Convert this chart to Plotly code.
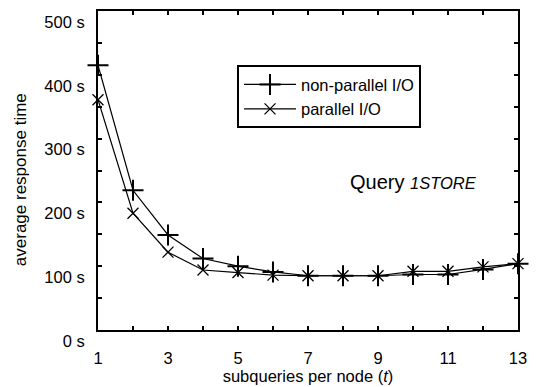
import plotly.graph_objects as go

subqueries = [1, 2, 3, 4, 5, 6, 7, 8, 9, 10, 11, 12, 13]
non_parallel = [415, 219, 149, 112, 100, 91, 85, 85, 85, 87, 87, 95, 104]
parallel = [361, 183, 122, 94, 90, 86, 85, 85, 85, 92, 92, 99, 104]
y_ticks = [0, 100, 200, 300, 400, 500]
y_tick_labels = ["0 s", "100 s", "200 s", "300 s", "400 s", "500 s"]
x_ticks = [1, 3, 5, 7, 9, 11, 13]

FONT = "Liberation Sans, Arial, Helvetica, sans-serif"

fig = go.Figure()
fig.add_trace(go.Scatter(
    x=subqueries, y=non_parallel, name="non-parallel I/O",
    mode="lines+markers",
    line=dict(color="black", width=1.2),
    marker=dict(symbol="cross-thin", size=15, color="black",
                line=dict(color="black", width=2)),
    cliponaxis=False,
))
fig.add_trace(go.Scatter(
    x=subqueries, y=parallel, name="parallel I/O",
    mode="lines+markers",
    line=dict(color="black", width=1.2),
    marker=dict(symbol="x-thin", size=11, color="black",
                line=dict(color="black", width=1.3)),
    cliponaxis=False,
))

fig.add_annotation(
    x=0.75, y=0.463, xref="paper", yref="paper", xanchor="center", yanchor="middle",
    text="Query <i><span style='font-size:16.5px'>1STORE</span></i>",
    showarrow=False, font=dict(family=FONT, size=20, color="black"),
)
fig.add_annotation(
    x=-0.184, y=0.472, xref="paper", yref="paper", xanchor="center", yanchor="middle",
    text="average response time", textangle=-90,
    showarrow=False, font=dict(family=FONT, size=17, color="black"),
)

fig.update_layout(
    width=536, height=387,
    margin=dict(l=98, r=15, t=9, b=56),
    paper_bgcolor="white", plot_bgcolor="white",
    font=dict(family=FONT, size=16.5, color="black"),
    showlegend=True,
    legend=dict(
        x=0.331, y=0.83, xanchor="left", yanchor="top",
        bordercolor="black", borderwidth=2, bgcolor="white",
        font=dict(family=FONT, size=16.5, color="black"),
        itemwidth=52, tracegroupgap=0,
    ),
    xaxis=dict(
        range=[1, 13], tickvals=x_ticks, ticktext=[str(v) for v in x_ticks],
        ticks="inside", ticklen=4, tickwidth=1.5, tickcolor="black",
        minor=dict(dtick=1, tick0=1, ticks="inside", ticklen=4, tickwidth=1.5, tickcolor="black"),
        showline=True, linecolor="black", linewidth=2, mirror="ticks",
        showgrid=False, zeroline=False,
        ticklabelstandoff=12,
        tickfont=dict(size=16.5),
        title=dict(text="subqueries per node (<i>t</i>)", standoff=0,
                   font=dict(size=16.5)),
    ),
    yaxis=dict(
        range=[0, 500], tickvals=y_ticks, ticktext=y_tick_labels,
        ticks="inside", ticklen=4, tickwidth=1.5, tickcolor="black",
        minor=dict(dtick=50, tick0=0, ticks="inside", ticklen=4, tickwidth=1.5, tickcolor="black"),
        showline=True, linecolor="black", linewidth=2, mirror="ticks",
        showgrid=False, zeroline=False,
        ticklabelshift=11, ticklabelstandoff=8,
        tickfont=dict(size=16.5),
    ),
)

fig.write_html("out.html")
